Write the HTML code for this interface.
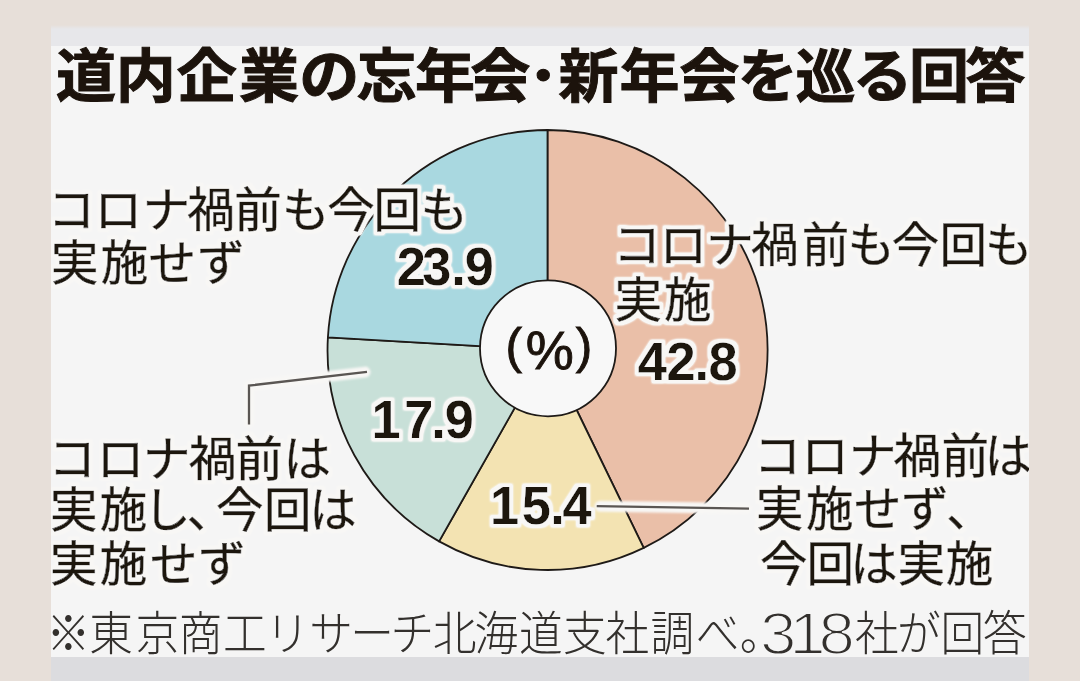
<!DOCTYPE html>
<html lang="ja">
<head>
<meta charset="utf-8">
<title>道内企業の忘年会・新年会を巡る回答</title>
<style>
html,body{margin:0;padding:0;width:1080px;height:681px;overflow:hidden;background:#e7dfd9;}
svg{display:block;position:absolute;left:0;top:0;}
text{font-family:"Liberation Sans","Noto Sans CJK JP",sans-serif;fill:#1c130c;}
.title{font-weight:700;stroke:#1c130c;stroke-width:1px;}
.lab{font-weight:400;stroke:#1c130c;stroke-width:0.6px;}
.halo{filter:url(#halo);}
.num{font-weight:700;}
.note{font-weight:300;fill:#33302d;}
.dig{paint-order:fill stroke;stroke:#f5f5f5;stroke-width:2px;stroke-linejoin:round;}
.pct{font-weight:400;stroke:#1c130c;stroke-width:0.9px;}
</style>
</head>
<body>
<svg width="1080" height="681" viewBox="0 0 1080 681">
  <defs>
    <filter id="halo" x="-5%" y="-20%" width="110%" height="140%">
      <feMorphology in="SourceAlpha" operator="dilate" radius="3" result="d"/>
      <feGaussianBlur in="d" stdDeviation="0.9" result="b"/>
      <feComponentTransfer in="b" result="t"><feFuncA type="linear" slope="2.2" intercept="0"/></feComponentTransfer>
      <feFlood flood-color="#f8f7f5"/>
      <feComposite in2="t" operator="in" result="h"/>
      <feMerge><feMergeNode in="h"/><feMergeNode in="SourceGraphic"/></feMerge>
    </filter>
    <filter id="soft" filterUnits="userSpaceOnUse" x="0" y="0" width="1080" height="681"><feGaussianBlur stdDeviation="0.8"/></filter>
    <linearGradient id="topg" gradientUnits="userSpaceOnUse" x1="0" y1="25" x2="0" y2="29"><stop offset="0" stop-color="#e7dfd9"/><stop offset="1" stop-color="#e7e7ea"/></linearGradient>
    <clipPath id="panel"><rect x="51" y="25" width="978" height="656"/></clipPath>
  </defs>
  <rect x="0" y="0" width="1080" height="681" fill="#e7dfd9"/>
  <rect x="51" y="25" width="978" height="656" fill="url(#topg)"/>
  <rect x="51" y="46" width="978" height="611" fill="#f5f5f5"/>
  <rect x="51" y="657" width="978" height="24" fill="#dcdcdf"/>

  <g stroke="#1e1a17" stroke-width="1.8" stroke-linejoin="round">
    <path d="M547.5 350 L547.5 130 A220 220 0 0 1 643.7 547.9 Z" fill="#eabfa8"/>
    <path d="M547.5 350 L643.7 547.9 A220 220 0 0 1 439.1 541.4 Z" fill="#f3e3b2"/>
    <path d="M547.5 350 L439.1 541.4 A220 220 0 0 1 327.9 337.4 Z" fill="#c8e0d8"/>
    <path d="M547.5 350 L327.9 337.4 A220 220 0 0 1 547.5 130 Z" fill="#a9d8e0"/>
    <circle cx="548" cy="348.3" r="68" fill="#f8f8f8"/>
  </g>

  <g fill="none" stroke="#f8f7f5" stroke-width="11" stroke-linecap="round" stroke-linejoin="round" filter="url(#soft)">
    <polyline points="365,372.1 249,385.6 249,422"/>
    <line x1="600" y1="506.2" x2="746" y2="508.6"/>
  </g>
  <g fill="none" stroke="#5a5653" stroke-width="2.3">
    <polyline points="367,371.9 249,385.6 249,424.5"/>
    <line x1="596.7" y1="506.1" x2="749" y2="508.7"/>
  </g>

  <g clip-path="url(#panel)">
  <text class="title" font-size="57.5" transform="scale(1.045,1)"><tspan x="53.6" y="96.8">道</tspan><tspan x="110.8" y="96.8">内</tspan><tspan x="169.2" y="96.8">企</tspan><tspan x="228.6" y="96.8">業</tspan><tspan x="286.3" y="96.8">の</tspan><tspan x="341.4" y="96.8">忘</tspan><tspan x="397.2" y="96.8">年</tspan><tspan x="450.0" y="96.8">会</tspan><tspan x="496.9" y="92.4" font-size="46">・</tspan><tspan x="534.4" y="96.8">新</tspan><tspan x="592.9" y="96.8">年</tspan><tspan x="650.0" y="96.8">会</tspan><tspan x="706.0" y="96.8">を</tspan><tspan x="761.2" y="96.8">巡</tspan><tspan x="815.8" y="96.8">る</tspan><tspan x="869.8" y="96.8">回</tspan><tspan x="923.9" y="96.8">答</tspan></text>
  <text class="lab halo" font-size="47.5" x="47.8 94.4 142.5 187.2 234.2 282.1 327.2 373.5 420.4" y="226.5">コロナ禍前も今回も</text>
  <text class="lab halo" font-size="47.5" x="51.1 100.7 148.5 197.2" y="280.3">実施せず</text>
  <text class="lab halo" font-size="47.5" x="613.3 659.4 706.3 750.9 801.8 847.6 891.7 939.5 984.9" y="262.0">コロナ禍前も今回も</text>
  <text class="lab halo" font-size="47.5" x="614.4 664.1" y="317.0">実施</text>
  <text class="lab halo" font-size="47.5" x="48.5 96.7 143.0 188.8 235.4 283.4" y="476.2">コロナ禍前は</text>
  <text class="lab halo" font-size="47.5" x="50.0 99.8 143.2 186.7 216.0 264.1 309.3" y="527.1">実施し、今回は</text>
  <text class="lab halo" font-size="47.5" x="50.0 99.8 150.0 198.3" y="581.3">実施せず</text>
  <text class="lab halo" font-size="47.5" x="753.8 801.3 849.1 893.5 941.5 984.5" y="472.5">コロナ禍前は</text>
  <text class="lab halo" font-size="47.5" x="756.1 806.0 854.1 901.2 946.2" y="526.4">実施せず、</text>
  <text class="lab halo" font-size="47.5" x="759.9 806.4 850.3 897.4 945.8" y="580.7">今回は実施</text>
  <text class="num halo" font-size="54.5" transform="scale(0.96,1)" x="413.2 439.8 470.0 484.0" y="284.9">23.9</text>
  <text class="num halo" font-size="54.5" transform="scale(0.96,1)" x="664.2 694.3 723.4 738.0" y="379.9">42.8</text>
  <text class="num halo" font-size="54.5" transform="scale(0.96,1)" x="386.9 421.0 449.2 463.2" y="437.6">17.9</text>
  <text class="num halo" font-size="54.5" transform="scale(0.96,1)" x="510.5 543.5 573.1 585.9" y="524.1">15.4</text>
  <text class="pct"><tspan x="505.5" y="363.3" font-size="49.6">(</tspan><tspan x="525.7" y="369.3" font-size="54">%</tspan><tspan x="575.8" y="363.3" font-size="49.6">)</tspan></text>
  <text class="note" font-size="47" transform="scale(0.93,1)" x="50.0 95.9 145.6 192.1 239.9 285.5 332.5 376.5 419.9 465.3 510.3 558.0 605.3 651.2 699.6 748.0 795.5" y="650.5">※東京商工リサーチ北海道支社調べ。</text>
  <text class="note dig" font-size="59.5" transform="scale(1.1,1)" x="690.9 717.6 744.1" y="653.8">318</text>
  <text class="note" font-size="47" transform="scale(0.93,1)" x="919.4 964.5 1011.4 1057.1" y="650.5">社が回答</text>
  </g>
</svg>
</body>
</html>
